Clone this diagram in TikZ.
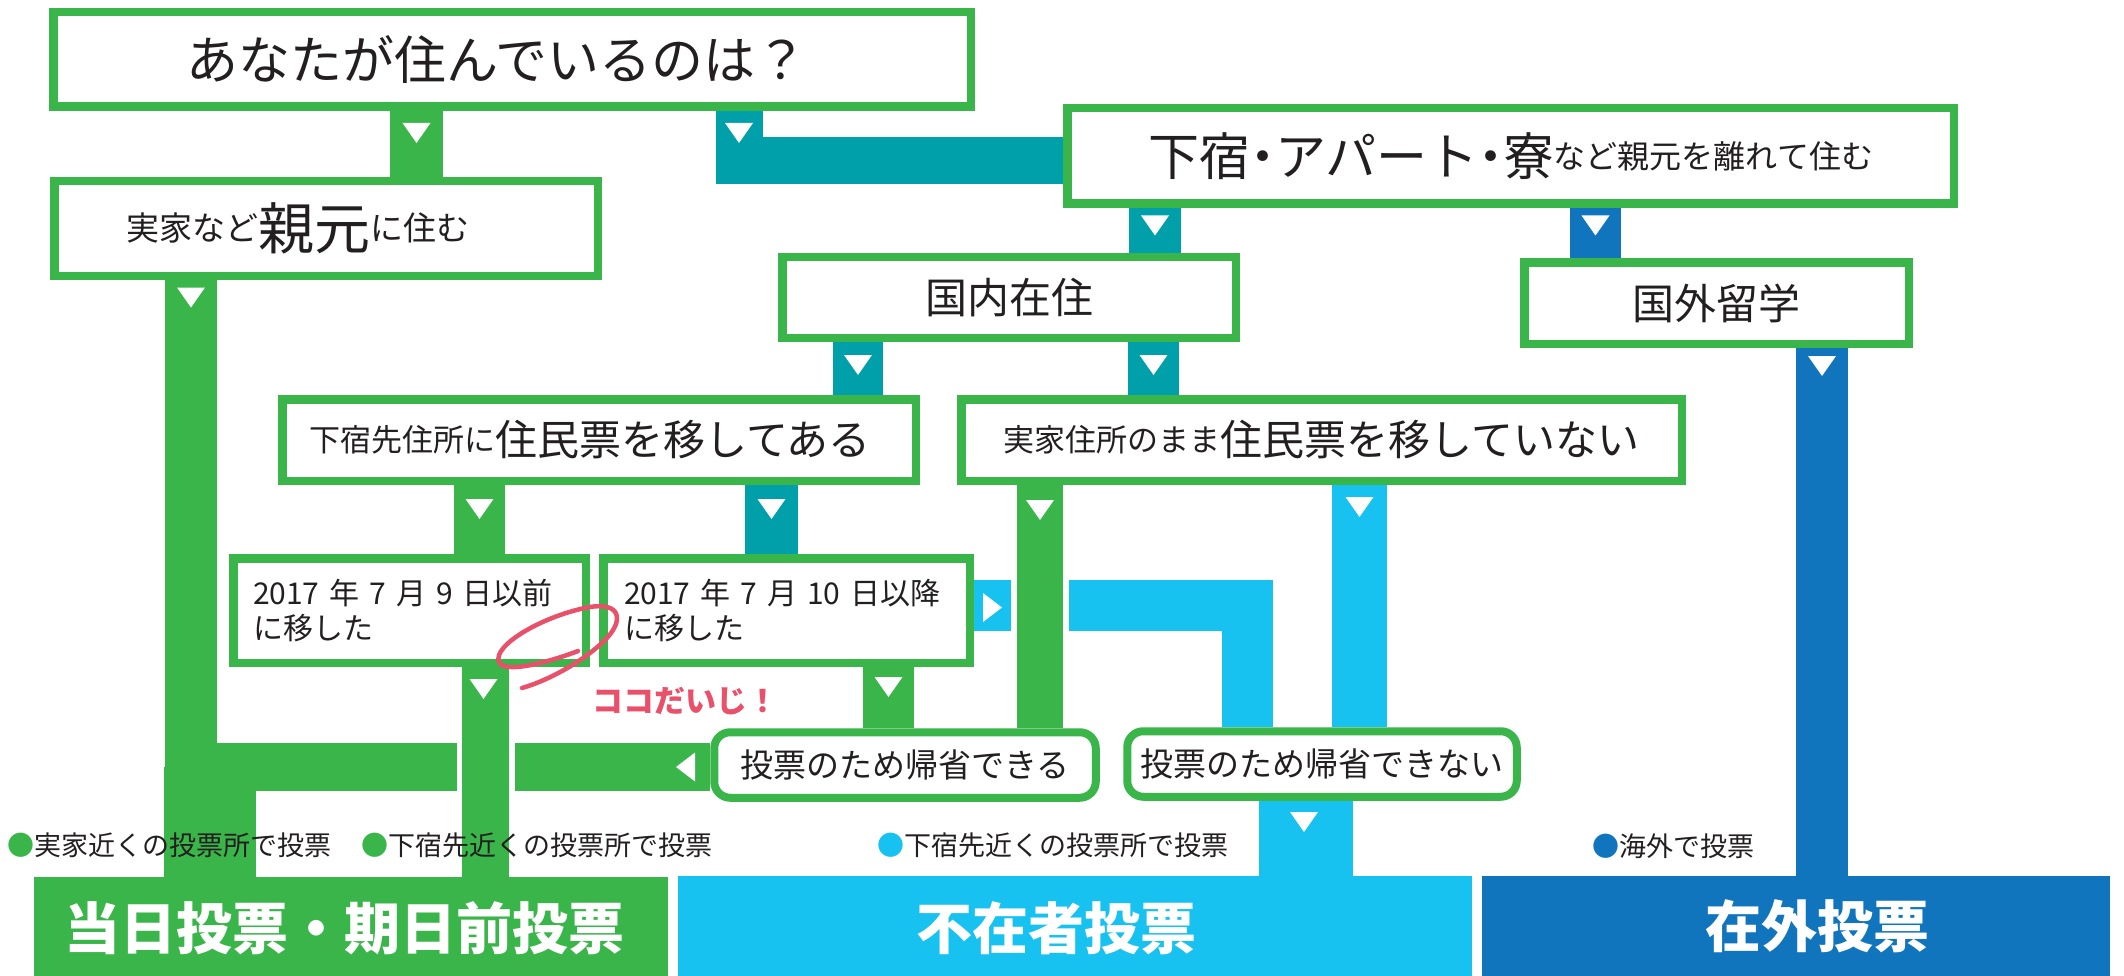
\documentclass[tikz,border=0pt]{standalone}
\usepackage{fontspec}
\setmainfont{Noto Sans CJK JP}
\usetikzlibrary{backgrounds}
\definecolor{cg}{HTML}{3AB54A}
\definecolor{ct}{HTML}{00A0AA}
\definecolor{cl}{HTML}{17C1F0}
\definecolor{cd}{HTML}{1175BD}
\definecolor{cp}{HTML}{E9506A}
\definecolor{ink}{HTML}{231F20}
\newcommand\fs[1]{\fontsize{#1}{#1}\selectfont}
\newcommand\rsm[3]{\raisebox{#1pt}{\fs{#2}#3}}
\newcommand\ndot{\kern-13pt・\kern-13pt}
\begin{document}
\begin{tikzpicture}[x=1pt,y=-1pt,
  box/.style={draw=cg, line width=8.5pt, fill=white, inner sep=0pt, text=ink},
  rbox/.style={box, line width=8pt, rounded corners=16pt},
  bar/.style={inner sep=0pt, draw=none},
  bartext/.style={text=white, font=\fs{56}\bfseries, inner sep=0pt},
  legend/.style={anchor=west, text=ink, font=\fs{27}, inner sep=0pt},
  dtri/.pic={\fill[white] (-14,-10) -- (14,-10) -- (0,10) -- cycle;},
  rtri/.pic={\fill[white] (-9.5,-14.5) -- (-9.5,14.5) -- (9.5,0) -- cycle;},
  ltri/.pic={\fill[white] (9.5,-14.5) -- (9.5,14.5) -- (-9.5,0) -- cycle;},
  link/.style={line width=#1, line join=miter, line cap=butt},
]
\useasboundingbox (0,0) rectangle (2124,976);

% boxes
\node[box, minimum width=917.5pt, minimum height=94.5pt] (top) at (512,59.5)
  {\fs{52}あなたが住んでいるのは？\hspace*{30pt}};
\node[box, minimum width=543.5pt, minimum height=94.5pt] (jika) at (326,228.5)
  {\rsm{8.7}{33}{実家など}\fs{56}親元\rsm{8.7}{33}{に住む}\hspace*{56pt}};
\node[box, minimum width=886.5pt, minimum height=95.5pt] (geshuku) at (1510.5,156)
  {\fs{51}下宿\ndot アパート\ndot 寮\rsm{7.2}{32}{など親元を離れて住む}};
\node[box, minimum width=453.5pt, minimum height=80.5pt] (kokunai) at (1009,297.5)
  {\fs{42}国内在住};
\node[box, minimum width=384.5pt, minimum height=81.5pt] (kokugai) at (1716.5,303)
  {\fs{42}国外留学};
\node[box, minimum width=633.5pt, minimum height=81.5pt] (ari) at (599,440)
  {\rsm{4.2}{31}{下宿先住所に}\fs{42}住民票を移してある\hspace*{18pt}};
\node[box, minimum width=720.5pt, minimum height=81.5pt] (nashi) at (1321.5,440)
  {\rsm{4.2}{31}{実家住所のまま}\fs{42}住民票を移していない};
\node[box, minimum width=352.5pt, minimum height=104.5pt, text width=313pt, align=left,
  font=\fontsize{30}{35}\selectfont] (mae) at (409.5,610.5)
  {2017 年 7 月 9 日以前\\に移した};
\node[box, minimum width=366.5pt, minimum height=104.5pt, text width=325pt, align=left,
  font=\fontsize{30}{35}\selectfont] (ikou) at (786.5,610.5)
  {2017 年 7 月 10 日以降\\に移した};
\node[rbox, minimum width=381.5pt, minimum height=65.5pt] (dekiru) at (905,765)
  {\fs{33}投票のため帰省できる};
\node[rbox, minimum width=389.5pt, minimum height=65.5pt] (dekinai) at (1322,764)
  {\fs{33}投票のため帰省できない};

% result bars
\node[bar, fill=cg, minimum width=634pt, minimum height=99pt] (gbar) at (351,926.5) {};
\node[bar, fill=cl, minimum width=794pt, minimum height=100pt] (lbar) at (1075,926) {};
\node[bar, fill=cd, minimum width=628pt, minimum height=100pt] (dbar) at (1796,926) {};
\node[bartext] (gbar-t) at (344,928) {当日投票・期日前投票};
\node[bartext] (lbar-t) at (1056,928) {不在者投票};
\node[bartext] (dbar-t) at (1817,926) {在外投票};

% helper coordinates
\coordinate (xa) at (416.5,0);
\coordinate (xt) at (739,0); \coordinate (yt) at (0,160.5);
\coordinate (xc3) at (1155,0);
\coordinate (xc4) at (1595.5,0);
\coordinate (xc5) at (1822,0);
\coordinate (xc6) at (191,0); \coordinate (xc6w) at (210,0); \coordinate (yh) at (0,767);
\coordinate (xc7) at (858,0);
\coordinate (xc8) at (1153.5,0);
\coordinate (xc9) at (479.5,0);
\coordinate (xc10) at (771.5,0);
\coordinate (xc11) at (1040,0);
\coordinate (xc12) at (1359.5,0);
\coordinate (yb) at (0,605.5); \coordinate (xb1) at (1011,0); \coordinate (xb2) at (1069,0);
\coordinate (xc13) at (1247.5,0);
\coordinate (xc14) at (1306,0);
\coordinate (xc15) at (485.5,0);
\coordinate (xc16) at (888.5,0);
\coordinate (xg1) at (515,0); \coordinate (xg2) at (457,0);

\begin{pgfonlayer}{background}
\fill[white] (0,0) rectangle (2124,976);
\draw[cg, link=53pt] (top.south -| xa) -- (jika.north -| xa);
\draw[ct, link=47pt] (top.south -| xt) -- (xt |- yt) -- (yt -| geshuku.west);
\draw[ct, link=52pt] (geshuku.south -| xc3) -- (kokunai.north -| xc3);
\draw[cd, link=51pt] (geshuku.south -| xc4) -- (kokugai.north -| xc4);
\draw[cd, link=52pt] (kokugai.south -| xc5) -- (dbar.north -| xc5);
\draw[cg, link=52pt] (jika.south -| xc6) -- (xc6 |- yh);
\draw[cg, link=92pt] (xc6w |- yh) -- (gbar.north -| xc6w);
\draw[ct, link=50pt] (kokunai.south -| xc7) -- (ari.north -| xc7);
\draw[ct, link=51pt] (kokunai.south -| xc8) -- (nashi.north -| xc8);
\draw[cg, link=51pt] (ari.south -| xc9) -- (mae.north -| xc9);
\draw[ct, link=53pt] (ari.south -| xc10) -- (ikou.north -| xc10);
\draw[cg, link=46pt] (nashi.south -| xc11) -- (dekiru.north -| xc11);
\draw[cl, link=55pt] (nashi.south -| xc12) -- (dekinai.north -| xc12);
\draw[cl, link=51pt] (yb -| ikou.east) -- (yb -| xb1);
\draw[cl, link=51pt] (yb -| xb2) -- (yb -| xc13) -- (dekinai.north -| xc13);
\draw[cl, link=94pt] (dekinai.south -| xc14) -- (lbar.north -| xc14);
\draw[cg, link=47pt] (mae.south -| xc15) -- (gbar.north -| xc15);
\draw[cg, link=51pt] (ikou.south -| xc16) -- (dekiru.north -| xc16);
\draw[cg, link=48pt] (yh -| dekiru.west) -- (yh -| xg1);
\draw[cg, link=48pt] (yh -| xg2) -- (yh -| xc6);
\end{pgfonlayer}

% arrow marks
\pic at (416.5,133) {dtri};
\pic at (739,133) {dtri};
\pic at (1155,225.5) {dtri};
\pic at (1595.5,225.5) {dtri};
\pic at (1822,366) {dtri};
\pic at (191,297.5) {dtri};
\pic at (858,365) {dtri};
\pic at (1153.5,365) {dtri};
\pic at (479.5,509) {dtri};
\pic at (771.5,509) {dtri};
\pic at (1040,510) {dtri};
\pic at (1359.5,507) {dtri};
\pic at (992.5,607.5) {rtri};
\pic at (1304,822) {dtri};
\pic at (483.5,689) {dtri};
\pic at (888.5,687) {dtri};
\pic at (685.5,767) {ltri};

% legends
\node[legend] (lg1) at (7,845) {\textcolor{cg}{●}実家近くの投票所で投票};
\node[legend] (lg2) at (361,845) {\textcolor{cg}{●}下宿先近くの投票所で投票};
\node[legend] (lg3) at (877,845) {\textcolor{cl}{●}下宿先近くの投票所で投票};
\node[legend] (lg4) at (1592,846) {\textcolor{cd}{●}海外で投票};

% annotation
\draw[cp, line width=4.5pt, line cap=round, line join=round]
  (578,651) .. controls (555,660) and (505,675) .. (499,662)
  .. controls (492,645) and (545,615) .. (590,607)
  .. controls (620,602) and (625,620) .. (605,640)
  .. controls (585,660) and (550,680) .. (522,688);
\node[text=cp, font=\fs{31}\bfseries, inner sep=0pt] (note) at (685,701) {ココだいじ！};
\end{tikzpicture}
\end{document}
